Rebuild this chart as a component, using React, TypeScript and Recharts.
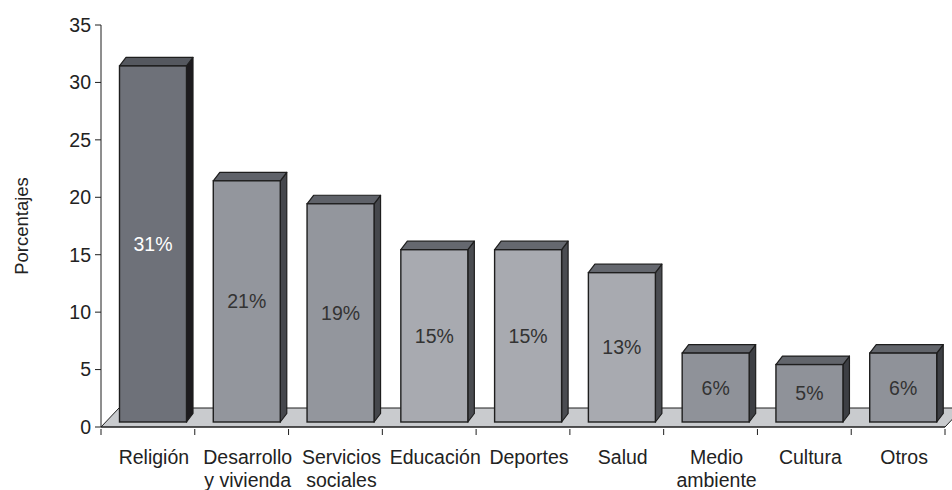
import * as R from 'recharts';
import { BarChart, Bar, XAxis, YAxis, LabelList } from 'recharts';

const categories = [
  'Religión',
  'Desarrollo\ny vivienda',
  'Servicios\nsociales',
  'Educación',
  'Deportes',
  'Salud',
  'Medio\nambiente',
  'Cultura',
  'Otros',
];
const percentages = [31, 21, 19, 15, 15, 13, 6, 5, 6];
const yTicks = [0, 5, 10, 15, 20, 25, 30, 35];

const data = categories.map((name, i) => ({ name, value: percentages[i] }));

// front / top / side shades per bar
const shades = [
  ['#6e7179', '#55585f', '#1d1b1e'],
  ['#93969d', '#5f6269', '#45474c'],
  ['#93969d', '#5f6269', '#45474c'],
  ['#a8aab0', '#65686f', '#4a4c51'],
  ['#a8aab0', '#65686f', '#4a4c51'],
  ['#a8aab0', '#65686f', '#4a4c51'],
  ['#8f9299', '#62656b', '#3d3f44'],
  ['#8f9299', '#62656b', '#3d3f44'],
  ['#8f9299', '#62656b', '#3d3f44'],
];

const SHIFT_X = 5.5;
const LIFT = 5;
const DX = 6.5;
const DY = 8.5;
const INK = '#1e1e1e';
const FONT = '"Liberation Sans", Arial, sans-serif';

function Box3D(props: any) {
  const { x, y, width, height, index } = props;
  if (width == null || height == null) return null;
  const [front, top, side] = shades[index] || shades[0];
  const fx = x + SHIFT_X;
  const fy = y - LIFT;
  const w = width;
  const h = height;
  return (
    <g>
      <polygon
        points={`${fx + w},${fy} ${fx + w + DX},${fy - DY} ${fx + w + DX},${fy + h - DY} ${fx + w},${fy + h}`}
        fill={side}
        stroke={INK}
        strokeWidth={1.2}
        strokeLinejoin="round"
      />
      <polygon
        points={`${fx},${fy} ${fx + DX},${fy - DY} ${fx + w + DX},${fy - DY} ${fx + w},${fy}`}
        fill={top}
        stroke={INK}
        strokeWidth={1.2}
        strokeLinejoin="round"
      />
      <rect x={fx} y={fy} width={w} height={h} fill={front} stroke={INK} strokeWidth={1.4} />
    </g>
  );
}

function BarValue(props: any) {
  const { x, y, width, height, value, index } = props;
  return (
    <text
      x={x + SHIFT_X + width / 2}
      y={y - LIFT + height / 2}
      textAnchor="middle"
      dominantBaseline="central"
      fontSize={19.5}
      fontFamily={FONT}
      fill={index === 0 ? '#ffffff' : '#333333'}
    >
      {value}%
    </text>
  );
}

function CategoryTick(props: any) {
  const { x, y, payload, index } = props;
  const half = payload && payload.offset ? payload.offset : 46.9;
  const lines = String(payload.value).split('\n');
  const last = index === categories.length - 1;
  return (
    <g>
      <line x1={x - half} y1={y} x2={x - half} y2={y + 6} stroke={INK} strokeWidth={1} />
      {last && <line x1={x + half} y1={y} x2={x + half} y2={y + 6} stroke={INK} strokeWidth={1} />}
      {lines.map((ln, i) => (
        <text
          key={i}
          x={x + 6}
          y={y + 35 + i * 23}
          textAnchor="middle"
          fontSize={19.5}
          fontFamily={FONT}
          fill="#222"
        >
          {ln}
        </text>
      ))}
    </g>
  );
}

function Floor() {
  const area = (R as any).usePlotArea ? (R as any).usePlotArea() : null;
  if (!area) return null;
  const { x, y, width, height } = area;
  const b = y + height;
  const cy = y + height / 2;
  return (
    <g>
      <polygon
        points={`${x},${b} ${x + 18},${b - 19} ${x + width + 18},${b - 19} ${x + width},${b}`}
        fill="#c9cbce"
        stroke={INK}
        strokeWidth={1}
      />
      <text
        x={21}
        y={cy}
        transform={`rotate(-90, 21, ${cy})`}
        textAnchor="middle"
        dominantBaseline="central"
        fontSize={18.5}
        fontFamily={FONT}
        fill="#222"
      >
        Porcentajes
      </text>
    </g>
  );
}

export default function App() {
  return (
    <div style={{ position: 'fixed', left: 0, top: 0, background: '#fff' }}>
      <BarChart
        width={952}
        height={490}
        data={data}
        margin={{ top: 25, right: 7, left: 0, bottom: 0 }}
        barSize={67}
      >
        <Floor />
        <XAxis
          dataKey="name"
          height={63}
          interval={0}
          tickLine={false}
          tickSize={0}
          axisLine={{ stroke: INK, strokeWidth: 1 }}
          tick={<CategoryTick />}
        />
        <YAxis
          width={101}
          domain={[0, 35]}
          ticks={yTicks}
          interval={0}
          tickSize={6}
          tickMargin={4}
          axisLine={{ stroke: INK, strokeWidth: 1 }}
          tickLine={{ stroke: INK, strokeWidth: 1 }}
          tick={{ fontSize: 19.5, fill: '#222', fontFamily: FONT }}
        />
        <Bar dataKey="value" shape={<Box3D />} isAnimationActive={false}>
          <LabelList dataKey="value" content={<BarValue />} />
        </Bar>
      </BarChart>
    </div>
  );
}
